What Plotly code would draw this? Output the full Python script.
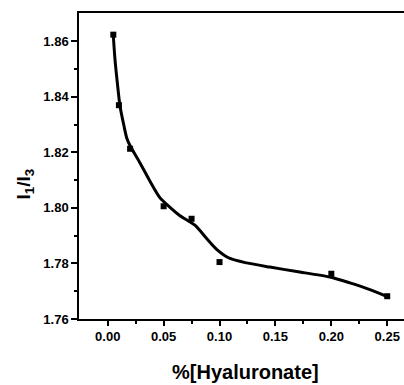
import plotly.graph_objects as go

conc = [0.005, 0.01, 0.02, 0.05, 0.075, 0.10, 0.20, 0.25]
ratio = [1.8624, 1.837, 1.8213, 1.8006, 1.7961, 1.7805, 1.7763, 1.7682]

fit_x = [0.005, 0.0065, 0.0086, 0.011, 0.0146, 0.017, 0.020, 0.0289, 0.0378, 0.0468,
         0.0557, 0.0646, 0.078, 0.0885, 0.0974, 0.1093, 0.1243, 0.145, 0.169, 0.1987,
         0.2166, 0.2345, 0.25]
fit_y = [1.8620, 1.8534, 1.8450, 1.8366, 1.8294, 1.8252, 1.8224, 1.8162, 1.8096, 1.8036,
         1.8002, 1.7972, 1.7938, 1.7890, 1.7851, 1.7818, 1.7802, 1.7787, 1.7771, 1.7751,
         1.7730, 1.7706, 1.7681]

x_ticks = [0, 0.05, 0.10, 0.15, 0.20, 0.25]
x_labels = ["0.00", "0.05", "0.10", "0.15", "0.20", "0.25"]
y_ticks = [1.76, 1.78, 1.80, 1.82, 1.84, 1.86]
y_labels = ["1.76", "1.78", "1.80", "1.82", "1.84", "1.86"]

font = "Liberation Sans, Arial, sans-serif"

fig = go.Figure()
fig.add_trace(go.Scatter(x=fit_x, y=fit_y, mode="lines",
                         line=dict(color="black", width=3, shape="spline", smoothing=0.7),
                         hoverinfo="skip", showlegend=False))
fig.add_trace(go.Scatter(x=conc, y=ratio, mode="markers",
                         marker=dict(symbol="square", size=6, color="black"),
                         showlegend=False))

fig.update_layout(
    width=404, height=385,
    margin=dict(l=79, r=0, t=13, b=66),
    paper_bgcolor="white", plot_bgcolor="white",
    font=dict(family=font, color="black"),
    annotations=[
        dict(text="<b>I<sub>1</sub>/I<sub>3</sub></b>", xref="paper", yref="paper",
             x=-0.166, y=0.44, xanchor="center", yanchor="middle", textangle=-90,
             showarrow=False, font=dict(size=19, family=font, color="black")),
        dict(text="<b>%[Hyaluronate]</b>", xref="paper", yref="paper",
             x=0.511, y=-0.173, xanchor="center", yanchor="middle",
             showarrow=False, font=dict(size=20, family=font, color="black")),
    ],
)
fig.update_xaxes(
    range=[-0.0257, 0.265], tickvals=x_ticks, ticktext=x_labels,
    ticks="outside", ticklen=5, tickwidth=1.5, tickcolor="black",
    minor=dict(tickvals=[0.025, 0.075, 0.125, 0.175, 0.225], ticks="outside", ticklen=3, tickcolor="black", tickwidth=1.5),
    showline=True, linecolor="black", linewidth=1.5, mirror=True,
    showgrid=False, zeroline=False,
    tickfont=dict(size=13, family=font, weight="bold"),
)
fig.update_yaxes(
    range=[1.76, 1.8702], tickvals=y_ticks, ticktext=y_labels,
    ticks="outside", ticklen=6, tickwidth=1.5, tickcolor="black",
    minor=dict(tickvals=[1.77, 1.79, 1.81, 1.83, 1.85], ticks="outside", ticklen=3, tickcolor="black", tickwidth=1.5),
    showline=True, linecolor="black", linewidth=1.5,
    showgrid=False, zeroline=False,
    tickfont=dict(size=13, family=font, weight="bold"),
)

fig.write_html("out.html")
